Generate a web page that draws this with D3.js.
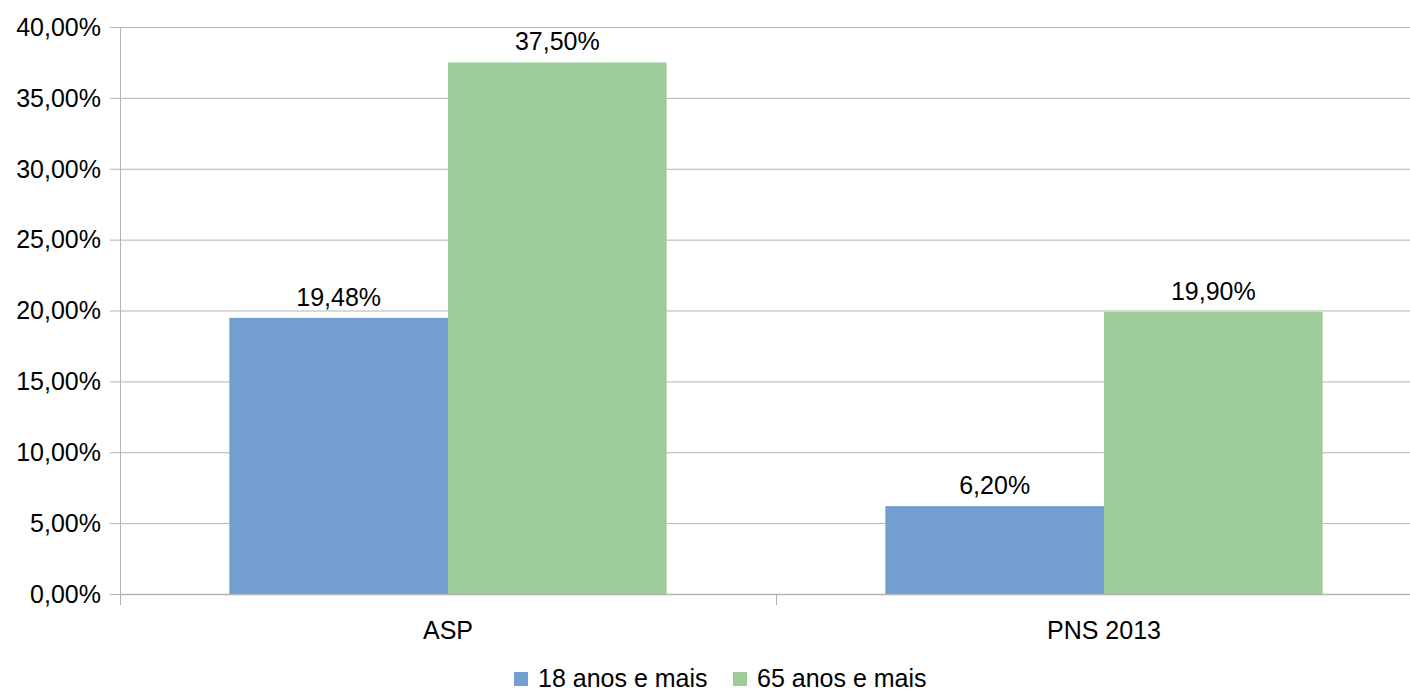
<!DOCTYPE html>
<html>
<head>
<meta charset="utf-8">
<script src="https://cdn.jsdelivr.net/npm/d3@7"></script>
<style>
body{margin:0;background:#fff;}
text{font-family:"Liberation Sans",Arial,sans-serif;fill:#000;}
</style>
</head>
<body>
<script>
var width = 1410;
var height = 692;

var categories = ['ASP','PNS 2013'];
var series = ['18 anos e mais','65 anos e mais'];
var values18 = [19.48, 6.20];
var values65 = [37.50, 19.90];
var yTicks = [0,5,10,15,20,25,30,35,40];
var colors = ['#729fcf','#9dcc98'];

var mLeft = 120, mTop = 27, mBottom = 594, mRight = 1432;
var fs = '25px';
var fmt = function(v){ return d3.format('.2f')(v).replace('.',',')+'%'; };

var svg = d3.select('body').append('svg')
	.attr('width',width)
	.attr('height',height);

var y = d3.scaleLinear().domain([0,40]).range([mBottom,mTop]);
var x0 = d3.scaleBand().domain(categories).range([mLeft,mRight]);
var x1 = d3.scaleBand().domain(series).range([0,x0.bandwidth()]).paddingOuter(0.5);

// grid lines
svg.append('g').selectAll('line')
	.data(yTicks)
	.enter().append('line')
	.attr('x1',mLeft-10).attr('x2',mRight)
	.attr('y1',d=>y(d)+0.5).attr('y2',d=>y(d)+0.5)
	.attr('stroke','#b3b3b3').attr('stroke-width',1);

svg.append('g').selectAll('text')
	.data(yTicks)
	.enter().append('text')
	.attr('x',mLeft-19).attr('y',d=>y(d))
	.attr('dy','0.35em')
	.attr('text-anchor','end')
	.style('font-size',fs)
	.text(fmt);

var rows = categories.map((c,i)=>({cat:c,vals:[values18[i],values65[i]]}));

var groups = svg.append('g').selectAll('g')
	.data(rows)
	.enter().append('g')
	.attr('transform',d=>'translate('+x0(d.cat)+',0)');

groups.selectAll('rect')
	.data(d=>d.vals.map((v,j)=>({s:series[j],v:v,j:j})))
	.enter().append('rect')
	.attr('x',d=>x1(d.s))
	.attr('width',x1.bandwidth())
	.attr('y',d=>y(d.v))
	.attr('height',d=>mBottom-y(d.v))
	.attr('fill',d=>colors[d.j]);

groups.selectAll('text')
	.data(d=>d.vals.map((v,j)=>({s:series[j],v:v,j:j})))
	.enter().append('text')
	.attr('x',d=>x1(d.s)+x1.bandwidth()/2)
	.attr('y',d=>y(d.v)-12)
	.attr('text-anchor','middle')
	.style('font-size',fs)
	.text(d=>fmt(d.v));

// axes lines
svg.append('line')
	.attr('x1',mLeft+0.5).attr('x2',mLeft+0.5)
	.attr('y1',mTop).attr('y2',mBottom+11)
	.attr('stroke','#b3b3b3');
svg.append('line')
	.attr('x1',mLeft).attr('x2',mRight)
	.attr('y1',mBottom+0.5).attr('y2',mBottom+0.5)
	.attr('stroke','#b3b3b3').attr('stroke-width',1.5);
svg.append('g').selectAll('line')
	.data(categories.slice(1))
	.enter().append('line')
	.attr('x1',d=>x0(d)+0.5).attr('x2',d=>x0(d)+0.5)
	.attr('y1',mBottom).attr('y2',mBottom+11)
	.attr('stroke','#b3b3b3');

svg.append('g').selectAll('text')
	.data(categories)
	.enter().append('text')
	.attr('x',d=>x0(d)+x0.bandwidth()/2)
	.attr('y',639)
	.attr('text-anchor','middle')
	.style('font-size',fs)
	.text(d=>d);

// legend
var legendX = [514,733];
var legend = svg.append('g').selectAll('g')
	.data(series)
	.enter().append('g')
	.attr('transform',(d,i)=>'translate('+legendX[i]+',672)');
legend.append('rect')
	.attr('width',14).attr('height',14)
	.attr('fill',(d,i)=>colors[i]);
legend.append('text')
	.attr('x',24).attr('y',15)
	.style('font-size',fs)
	.text(d=>d);
</script>
</body>
</html>
